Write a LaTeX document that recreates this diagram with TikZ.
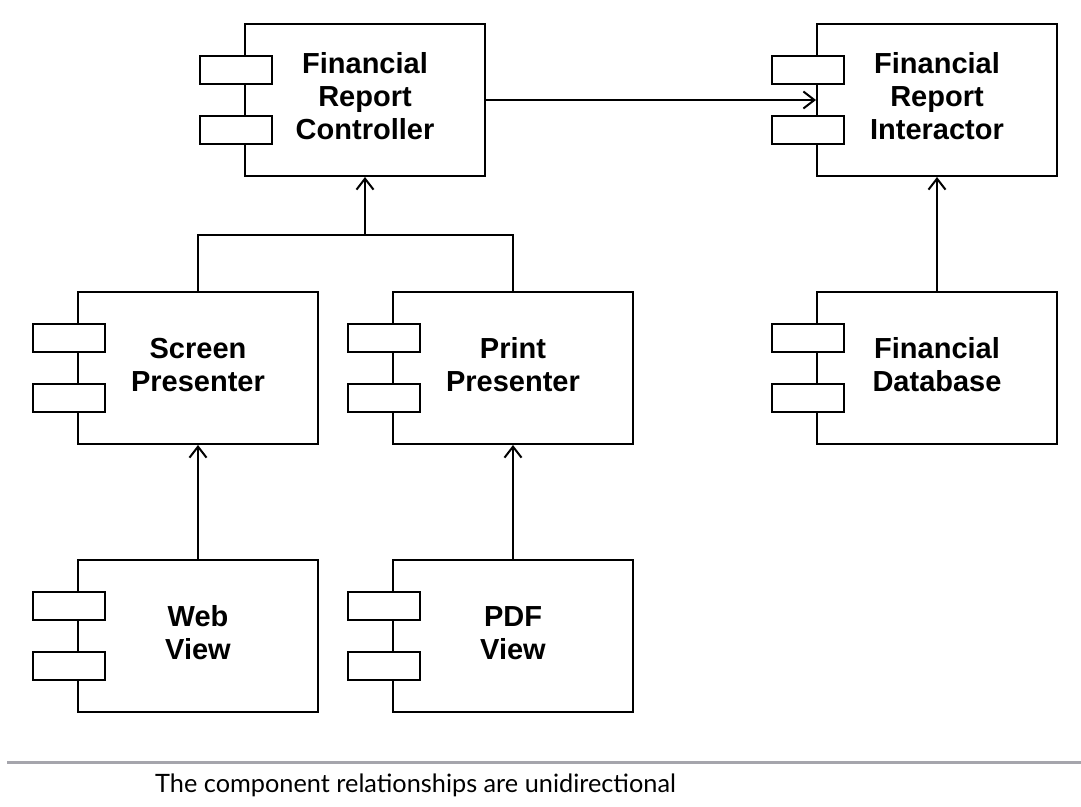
\documentclass[tikz,border=0pt]{standalone}
\usepackage{fontspec}
\setmainfont{Liberation Sans}
\newfontfamily\capfont{Lato}
\usetikzlibrary{arrows.meta}
\tikzset{
  compbox/.style={draw, line width=2pt, fill=white, minimum width=240pt, minimum height=152pt, inner sep=0pt,
    align=center, font=\fontsize{29}{33}\selectfont\bfseries},
  portbox/.style={draw, line width=2pt, fill=white, minimum width=72pt, minimum height=28pt, inner sep=0pt},
  conn/.style={line width=2pt},
  arr/.style={conn, -{Straight Barb[length=11pt,width=17pt,line width=2pt]}},
}
\newcommand\mkcomp[4]{%
  \node[compbox] (#1) at (#2,#3) {\raisebox{2pt}{\begin{tabular}{@{}c@{}}#4\end{tabular}}};
  \node[portbox] (#1p1) at ([xshift=-8pt,yshift=30pt]#1.west) {};
  \node[portbox] (#1p2) at ([xshift=-8pt,yshift=-30pt]#1.west) {};
}
\begin{document}
\begin{tikzpicture}[x=1pt,y=-1pt]
\useasboundingbox[fill=white] (0,0) rectangle (1081,806);
\mkcomp{ctrl}{365}{100}{Financial\\Report\\Controller}
\mkcomp{inter}{937}{100}{Financial\\Report\\Interactor}
\mkcomp{scr}{198}{368}{Screen\\Presenter}
\mkcomp{prt}{513}{368}{Print\\Presenter}
\mkcomp{db}{937}{368}{Financial\\Database}
\mkcomp{web}{198}{636}{Web\\View}
\mkcomp{pdf}{513}{636}{PDF\\View}
\draw[arr] (ctrl.east) -- (inter.west);
\coordinate (j) at (365,235);
\draw[conn] (scr.north) |- (j) -| (prt.north);
\draw[arr] (j) -- (ctrl.south);
\draw[arr] (web.north) -- (scr.south);
\draw[arr] (pdf.north) -- (prt.south);
\draw[arr] (db.north) -- (inter.south);
\coordinate (l1) at (7,762);
\coordinate (l2) at (1081,762);
\draw[line width=3pt, color={rgb,255:red,165;green,165;blue,172}] (l1) -- (l2);
\node[anchor=base west, inner sep=0pt, font=\capfont\fontsize{25.3}{30}\selectfont] (cap) at (155,792) {The component relationships are unidirectional};
\end{tikzpicture}
\end{document}
